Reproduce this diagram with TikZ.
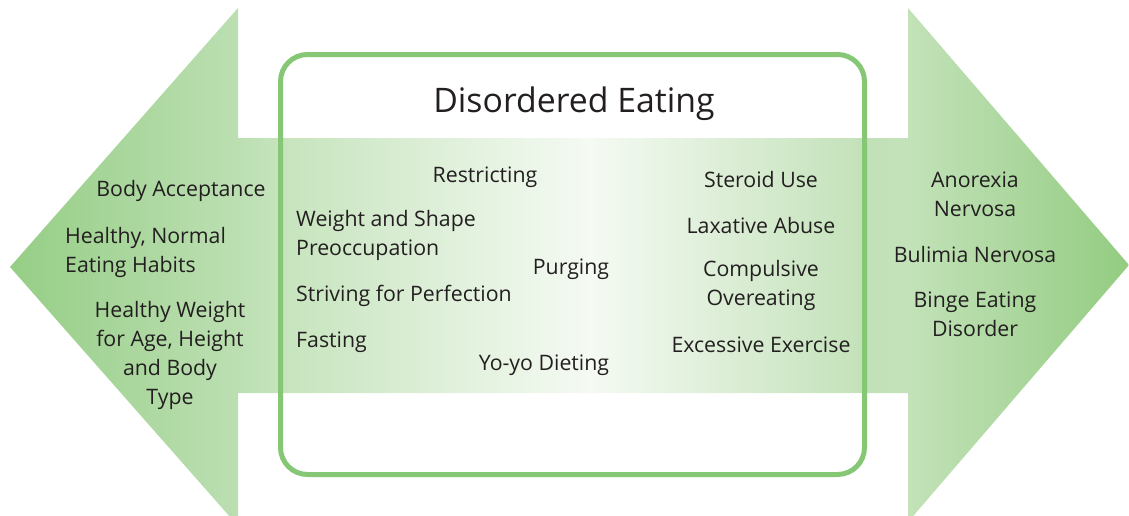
\documentclass[tikz,border=0pt]{standalone}
\usepackage{fontspec}
\setmainfont{Open Sans}
\definecolor{gA}{HTML}{96CE86}
\definecolor{gB}{HTML}{BCDFB2}
\definecolor{gC}{HTML}{C6E4BD}
\definecolor{gW}{HTML}{F5FAF3}
\definecolor{gD}{HTML}{C2E1B8}
\definecolor{gE}{HTML}{C3E2B9}
\definecolor{gF}{HTML}{93CC81}
\definecolor{border}{HTML}{86C776}
\definecolor{txt}{HTML}{231F20}
\pgfdeclarehorizontalshading{arrowshade}{100bp}{color(0bp)=(gA); color(25bp)=(gA); color(35.2bp)=(gB); color(37.1bp)=(gC); color(50.9bp)=(gW); color(63.4bp)=(gD); color(65.1bp)=(gE); color(75bp)=(gF); color(100bp)=(gF)}
\begin{document}
\begin{tikzpicture}[x=1pt,y=-1pt,
  lab/.style={font=\fontsize{21.3}{29}\selectfont, text=txt, align=center, inner sep=0pt},
  labl/.style={lab, align=left, anchor=west},
  title/.style={font=\fontsize{33.8}{38}\selectfont, text=txt, inner sep=0pt}]
\useasboundingbox (0,0) rectangle (1129,515);
\begin{scope}
\clip (0,0) rectangle (1129,515);
\shade[shading=arrowshade] (10,267) -- (238,8) -- (238,138) -- (908,138) -- (908,8) -- (1129,265) -- (908,522) -- (908,393) -- (238,393) -- (238,526) -- cycle;
\end{scope}
\draw[line width=5pt, draw=border, rounded corners=27pt] (280.5,54.5) rectangle (864.5,474.5);
\node[title] (t) at (574,104) {Disordered Eating};
% left
\node[lab] (ba) at (181,191) {Body Acceptance};
\node[labl] (hn) at (65,252) {Healthy, Normal\\Eating Habits};
\node[lab] (hw) at (170,355.5) {Healthy Weight\\for Age, Height\\and Body\\Type};
% centre
\node[lab] (re) at (485,177) {Restricting};
\node[labl] (ws) at (296,235.5) {Weight and Shape\\Preoccupation};
\node[labl] (sp) at (296,296) {Striving for Perfection};
\node[labl] (fa) at (296,342) {Fasting};
\node[lab] (pu) at (571,269) {Purging};
\node[lab] (yo) at (544,365) {Yo-yo Dieting};
% right column
\node[lab] (su) at (761,180) {Steroid Use};
\node[lab] (la) at (761,226) {Laxative Abuse};
\node[lab] (co) at (761,285) {Compulsive\\Overeating};
\node[lab] (ex) at (761,345) {Excessive Exercise};
% right head
\node[lab] (an) at (975,194.5) {Anorexia\\Nervosa};
\node[lab] (bn) at (975,255) {Bulimia Nervosa};
\node[lab] (be) at (975,314) {Binge Eating\\Disorder};
\end{tikzpicture}
\end{document}
